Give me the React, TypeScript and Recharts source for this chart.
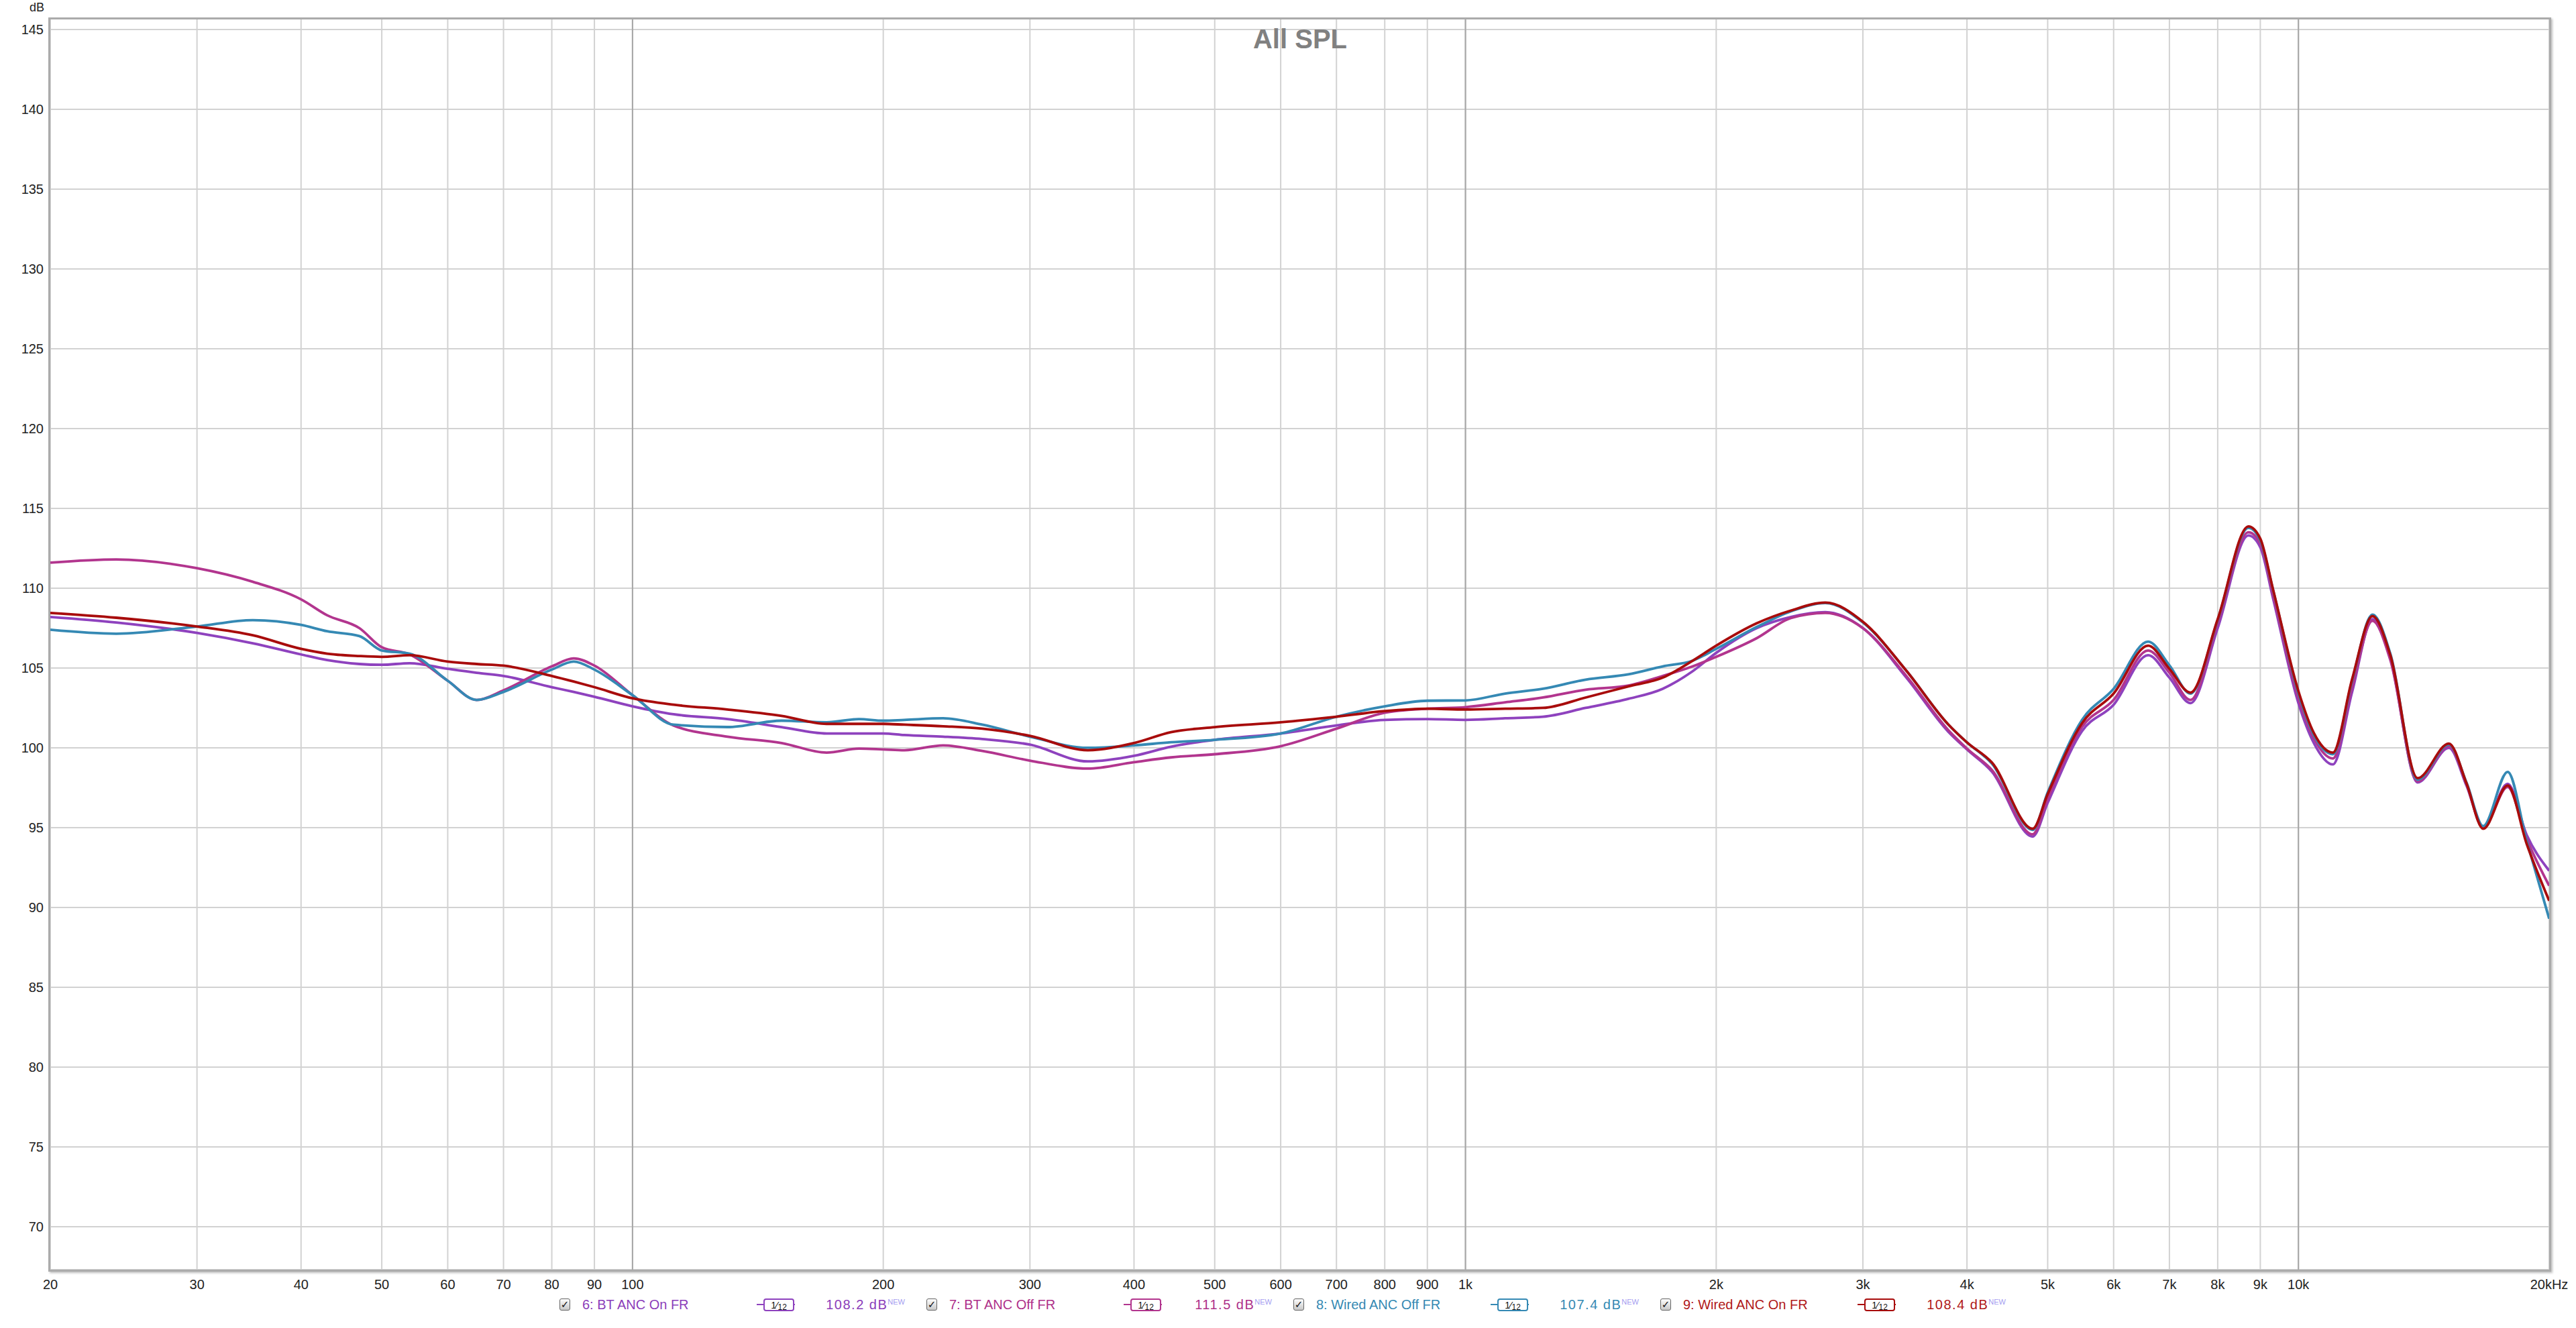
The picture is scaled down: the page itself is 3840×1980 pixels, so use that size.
import React from 'react';
import { LineChart, Line, XAxis, YAxis, CartesianGrid, ReferenceLine } from 'recharts';

const FREQ = [20, 24, 30, 35, 40, 43, 47, 50, 54, 60, 65, 70, 80, 85, 90, 100, 112, 130, 151, 171, 187, 200, 212, 236, 263, 300, 352, 400, 443, 500, 600, 700, 800, 900, 1000, 1116, 1239, 1394, 1569, 1725, 1874, 2000, 2237, 2459, 2704, 3000, 3383, 3800, 4000, 4287, 4797, 5000, 5497, 6000, 6600, 7000, 7420, 8000, 8710, 9000, 9322, 10000, 10436, 11000, 11600, 12274, 12893, 13900, 15158, 15922, 16666, 17834, 18793, 20000];

const BT_ANC_ON = [108.2, 107.85, 107.2, 106.55, 105.85, 105.5, 105.25, 105.2, 105.3, 104.95, 104.7, 104.5, 103.8, 103.5, 103.2, 102.6, 102.1, 101.8, 101.3, 100.9, 100.9, 100.9, 100.8, 100.7, 100.55, 100.2, 99.15, 99.5, 100.07, 100.5, 100.9, 101.4, 101.75, 101.8, 101.75, 101.85, 101.95, 102.5, 103.07, 103.7, 104.8, 105.95, 107.5, 108.2, 108.5, 107.5, 104.4, 101.0, 99.9, 98.5, 94.44, 96.55, 101.04, 102.7, 105.8, 104.4, 102.8, 107.5, 113.3, 112.56, 109.37, 102.8, 100.3, 98.96, 103.5, 108.06, 105.6, 97.83, 99.99, 97.6, 95.02, 97.74, 94.55, 92.3];

const BT_ANC_OFF = [111.6, 111.8, 111.25, 110.4, 109.3, 108.3, 107.5, 106.3, 105.85, 104.2, 103.0, 103.6, 105.1, 105.6, 105.15, 103.3, 101.4, 100.7, 100.3, 99.7, 99.95, 99.9, 99.85, 100.15, 99.8, 99.2, 98.7, 99.1, 99.4, 99.6, 100.1, 101.2, 102.2, 102.45, 102.55, 102.85, 103.15, 103.64, 103.9, 104.5, 105.1, 105.7, 106.87, 108.13, 108.45, 107.5, 104.5, 101.1, 99.95, 98.6, 94.58, 96.8, 101.3, 103.0, 106.1, 104.7, 103.0, 107.8, 113.5, 112.8, 109.6, 103.1, 100.6, 99.33, 103.8, 107.96, 105.5, 97.9, 100.1, 97.7, 95.0, 97.55, 94.3, 91.36];

const WIRED_ANC_OFF = [107.4, 107.15, 107.6, 108.0, 107.7, 107.3, 107.0, 106.1, 105.9, 104.2, 103.0, 103.5, 104.9, 105.4, 104.9, 103.3, 101.45, 101.3, 101.7, 101.6, 101.8, 101.7, 101.75, 101.85, 101.45, 100.7, 100.0, 100.15, 100.35, 100.5, 100.9, 101.95, 102.6, 102.95, 102.97, 103.4, 103.7, 104.27, 104.6, 105.1, 105.46, 106.2, 107.57, 108.55, 109.07, 107.85, 104.83, 101.45, 100.34, 99.0, 94.86, 97.2, 101.74, 103.7, 106.65, 105.17, 103.4, 108.0, 113.78, 113.0, 109.9, 103.4, 100.8, 99.6, 104.2, 108.34, 105.9, 98.0, 100.2, 97.8, 95.1, 98.49, 94.17, 89.3];

const WIRED_ANC_ON = [108.45, 108.15, 107.6, 107.05, 106.2, 105.9, 105.75, 105.7, 105.8, 105.4, 105.25, 105.15, 104.5, 104.15, 103.8, 103.1, 102.7, 102.4, 102.0, 101.5, 101.5, 101.5, 101.45, 101.35, 101.2, 100.75, 99.85, 100.3, 100.98, 101.3, 101.6, 101.95, 102.3, 102.45, 102.4, 102.45, 102.5, 103.15, 103.85, 104.4, 105.46, 106.4, 107.8, 108.6, 109.1, 107.9, 104.83, 101.46, 100.34, 99.07, 94.93, 97.1, 101.53, 103.4, 106.4, 104.95, 103.46, 108.06, 113.87, 113.1, 109.93, 103.55, 100.93, 99.7, 104.3, 108.25, 105.8, 98.1, 100.27, 97.74, 94.93, 97.64, 93.99, 90.42];

const X_TICKS = [20, 30, 40, 50, 60, 70, 80, 90, 100, 200, 300, 400, 500, 600, 700, 800, 900, 1000, 2000, 3000, 4000, 5000, 6000, 7000, 8000, 9000, 10000, 20000];
const Y_TICKS = [70, 75, 80, 85, 90, 95, 100, 105, 110, 115, 120, 125, 130, 135, 140, 145];
const DECADES = [100, 1000, 10000];

const SERIES = [
  { key: 's6', name: '6: BT ANC On FR', values: BT_ANC_ON, color: '#8E42BE', text: '#8B3DBA', level: '108.2 dB' },
  { key: 's7', name: '7: BT ANC Off FR', values: BT_ANC_OFF, color: '#B2358E', text: '#AE3089', level: '111.5 dB' },
  { key: 's8', name: '8: Wired ANC Off FR', values: WIRED_ANC_OFF, color: '#3589B4', text: '#3489B3', level: '107.4 dB' },
  { key: 's9', name: '9: Wired ANC On FR', values: WIRED_ANC_ON, color: '#A80C0C', text: '#B01818', level: '108.4 dB' },
];

const data = FREQ.map((f, i) => {
  const row: Record<string, number> = { f };
  SERIES.forEach((s) => { row[s.key] = s.values[i]; });
  return row;
});

const FONT = '"Liberation Sans", Arial, Helvetica, sans-serif';

const fmtX = (v: number) => {
  if (v === 20000) return '20kHz';
  if (v >= 1000) return `${v / 1000}k`;
  return `${v}`;
};

function LegendItem({ left, s }: { left: number; s: typeof SERIES[number] }) {
  return (
    <div style={{ position: 'absolute', left, top: 1936, width: 515, height: 18, fontFamily: FONT }}>
      <div style={{ position: 'absolute', left: 0, top: 0, width: 14, height: 16, border: '1px solid #666', borderRadius: 3, background: 'linear-gradient(#fdfdfd, #c8c8c8)', fontSize: 15, lineHeight: '16px', textAlign: 'center', color: '#111', fontWeight: 'bold', fontFamily: '"DejaVu Sans", sans-serif' }}>✓</div>
      <div style={{ position: 'absolute', left: 34, top: -2, fontSize: 20, lineHeight: '22px', color: s.text, whiteSpace: 'nowrap' }}>{s.name}</div>
      <div style={{ position: 'absolute', left: 294, top: 8, width: 57, height: 2, background: s.color }} />
      <div style={{ position: 'absolute', left: 304, top: 0, width: 42, height: 15, border: `2px solid ${s.color}`, borderRadius: 4, background: '#fff', color: '#111', fontSize: 12, lineHeight: '15px', textAlign: 'center', whiteSpace: 'nowrap' }}>
        <span style={{ fontSize: 14 }}>1</span>
        <span style={{ fontSize: 15 }}>⁄</span>
        <span style={{ fontSize: 12, position: 'relative', top: 2 }}>12</span>
      </div>
      <div style={{ position: 'absolute', right: 0, top: -2, fontSize: 20, lineHeight: '22px', color: s.text, whiteSpace: 'nowrap', letterSpacing: 1.5 }}>
        {s.level}
        <span style={{ fontSize: 11, color: '#a49cf0', position: 'relative', top: -7, letterSpacing: 0 }}>NEW</span>
      </div>
    </div>
  );
}

export default function App() {
  return (
    <div style={{ position: 'absolute', left: 0, top: 0, width: 3840, height: 1980, background: '#fff', fontFamily: FONT, overflow: 'hidden' }}>
      <LineChart width={3840} height={1980} data={data} margin={{ top: 28, right: 40, bottom: 47, left: 15 }}>
        <CartesianGrid stroke="#d2d2d2" strokeWidth={2} />
        <XAxis
          dataKey="f"
          type="number"
          scale="log"
          domain={[20, 20000]}
          ticks={X_TICKS}
          interval={0}
          allowDataOverflow
          axisLine={false}
          tickLine={false}
          tickMargin={9}
          height={40}
          tickFormatter={fmtX}
          tick={{ fontSize: 20, fill: '#222', fontFamily: FONT }}
        />
        <YAxis
          type="number"
          domain={[67.31, 145.67]}
          ticks={Y_TICKS}
          interval={0}
          allowDataOverflow
          axisLine={false}
          tickLine={false}
          tickMargin={4}
          width={60}
          tick={{ fontSize: 20, fill: '#222', fontFamily: FONT }}
        />
        {DECADES.map((d) => (
          <ReferenceLine key={d} x={d} stroke="#a6a6a6" strokeWidth={2} />
        ))}
        {SERIES.map((s) => (
          <Line
            key={s.key}
            type="monotone"
            dataKey={s.key}
            name={s.name}
            stroke={s.color}
            strokeWidth={3.8}
            dot={false}
            isAnimationActive={false}
          />
        ))}
      </LineChart>
      <div style={{ position: 'absolute', left: 72, top: 26, width: 3731, height: 1870, boxSizing: 'border-box', border: '3px solid #ababab', boxShadow: '2px 2px 3px rgba(0,0,0,0.25)', pointerEvents: 'none' }} />
      <div style={{ position: 'absolute', left: 0, top: 0, width: 66, textAlign: 'right', fontSize: 18, lineHeight: '22px', color: '#222' }}>dB</div>
      <div style={{ position: 'absolute', left: 1738, top: 38, width: 400, textAlign: 'center', fontSize: 40, lineHeight: '40px', fontWeight: 'bold', color: '#808080' }}>All SPL</div>
      {SERIES.map((s, i) => (
        <LegendItem key={s.key} left={834 + i * 547} s={s} />
      ))}
    </div>
  );
}
